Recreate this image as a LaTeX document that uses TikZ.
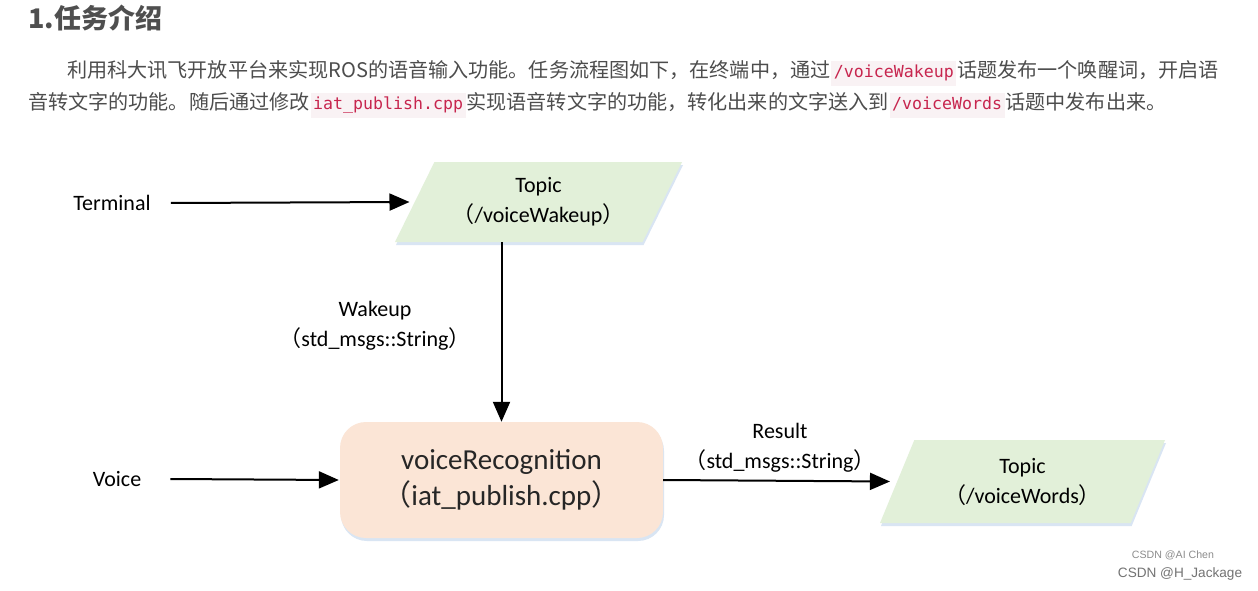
\documentclass[tikz,border=0pt]{standalone}
\usepackage{fontspec}
\setmainfont{Carlito}
\newfontfamily\cjk{Noto Sans CJK SC}
\newfontfamily\codefont{DejaVu Sans Mono}
\newfontfamily\wmfont{Liberation Sans}
\usetikzlibrary{arrows.meta,shapes.geometric,shadows}
\definecolor{bodytxt}{HTML}{4D4D4D}
\definecolor{titletxt}{HTML}{4F4F4F}
\definecolor{codefg}{HTML}{C7254E}
\definecolor{codebg}{HTML}{F9F2F4}
\definecolor{topicgreen}{HTML}{E2F0D9}
\definecolor{procorange}{HTML}{FBE5D6}
\definecolor{shadowblue}{HTML}{C9DAEE}
\newcommand\codeword[1]{\begingroup\setlength\fboxsep{2.5pt}\hspace{1pt}\colorbox{codebg}{\codefont\fontsize{16.6}{20}\selectfont\textcolor{codefg}{\strut#1}}\hspace{1pt}\endgroup}
\newcommand\lpar{{\cjk （}}
\newcommand\rpar{{\cjk ）}}
\begin{document}
\begin{tikzpicture}[x=1pt,y=-1pt,
  lbl/.style={font=\fontsize{22}{30}\selectfont, align=center, inner sep=0pt, text=black},
  biglbl/.style={font=\fontsize{29}{36}\selectfont, align=center, inner sep=0pt, text=black!85},
  softshadow/.style={drop shadow={shadow xshift=1pt, shadow yshift=-3pt, fill=shadowblue, opacity=0.7}},
  topicbox/.style={trapezium, trapezium left angle=51, trapezium right angle=129,
     trapezium stretches body, fill=topicgreen, minimum height=80pt, minimum width=287pt,
     inner sep=0pt, lbl, softshadow},
  procbox/.style={rectangle, rounded corners=26pt, fill=procorange, minimum width=323pt,
     minimum height=116pt, inner sep=0pt, biglbl, softshadow},
  arr/.style={-{Triangle[length=20pt,width=17pt]}, line width=2pt, black},
  bodyline/.style={anchor=west, inner sep=0pt, text=bodytxt, font=\cjk\fontsize{20.1}{24}\selectfont},
]
\fill[white] (0,0) rectangle (1258,591);
\useasboundingbox (0,0) rectangle (1258,591);

% header text
\node[anchor=west, inner sep=0pt, text=titletxt, font=\cjk\bfseries\fontsize{27}{30}\selectfont] (title) at (28,18) {1.任务介绍};
\node[bodyline] (line1) at (67,73) {利用科大讯飞开放平台来实现ROS的语音输入功能。任务流程图如下，在终端中，通过\codeword{/voiceWakeup}话题发布一个唤醒词，开启语};
\node[bodyline] (line2) at (28,105) {音转文字的功能。随后通过修改\codeword{iat\_publish.cpp}实现语音转文字的功能，转化出来的文字送入到\codeword{/voiceWords}话题中发布出来。};

% diagram
\node[lbl] (term) at (112,203) {Terminal};
\node[lbl] (voice) at (117,479) {Voice};
\node[topicbox] (topic1) at (538.5,202) {Topic\\\lpar/voiceWakeup\rpar};
\node[procbox] (proc) at (501.5,480) {voiceRecognition\\\lpar iat\_publish.cpp\rpar};
\node[topicbox, trapezium left angle=54, trapezium right angle=126, minimum height=83pt, minimum width=285pt] (topic2) at (1022.5,481.5) {Topic\\\lpar/voiceWords\rpar};

\node[lbl] (wakelbl) at (375,326) {Wakeup\\\lpar std\_msgs::String\rpar};
\node[lbl] (reslbl) at (780,448) {Result\\\lpar std\_msgs::String\rpar};

\draw[arr] ([xshift=20pt]term.east) -- ([xshift=-5pt]topic1.west);
\draw[arr] (proc.north |- topic1.south) -- (proc.north);
\draw[arr] ([xshift=29pt]voice.east) -- ([xshift=-1pt]proc.west);
\draw[arr] (proc.east) -- ([xshift=-7pt]topic2.west);

% watermark
\node[inner sep=0pt, text=black!45, font=\wmfont\fontsize{10.6}{12}\selectfont] (wm1) at (1173,555) {CSDN @AI Chen};
\node[inner sep=0pt, text=black!55, font=\wmfont\fontsize{13.6}{15}\selectfont] (wm2) at (1180,574) {CSDN @H\_Jackage};
\end{tikzpicture}
\end{document}
